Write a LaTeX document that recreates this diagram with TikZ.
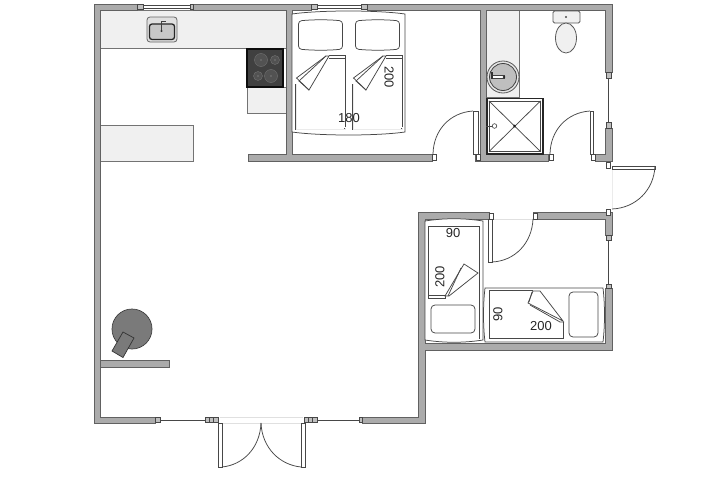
\documentclass[tikz,border=0pt]{standalone}
\usepackage{fontspec}
\setmainfont{Liberation Sans}
\begin{document}
\begin{tikzpicture}[x=1pt,y=-1pt,
  thinline/.style={draw=black!72,line width=.75pt},
  frameline/.style={draw=black!72,line width=.5pt,double=black!8,double distance=.8pt},
  counter/.style={fill=black!6,draw=black!55,line width=.9pt},
  furn/.style={fill=white,draw=black!72,line width=.75pt},
  capbox/.style={fill=black!25,draw=black!72,line width=.6pt},
  leaf/.style={fill=white,draw=black!72,line width=.75pt},
  lbl/.style={font=\fontsize{13}{14}\selectfont,text=black!85,inner sep=0pt}]
\useasboundingbox (0,0) rectangle (718,479);
\fill[white] (0,0) rectangle (718,479);
% counters
\path[counter] (100,10) rectangle (286,48);
\path[counter] (247,87) -- (247,113) -- (286,113) -- (286,87) -- cycle;
\path[counter] (100,125) -- (193,125) -- (193,161) -- (100,161) -- cycle;
\path[counter] (486,10) -- (519,10) -- (519,97) -- (486,97) -- cycle;
% walls
\def\walls{94/4/137/10,193/4/311/10,367/4/612/10,94/4/100/423,94/417/155/423,362/417/425/423,%
418/212/425/423,418/212/489/219,533/212/612/219,605/212/612/235,605/288/612/350,418/343/612/350,%
605/4/612/72,605/128/612/161,595/154/612/161,480/4/486/161,475/154/548/161,286/4/292/161,%
248/154/432/161,100/360/169/367}
\foreach \a/\b/\c/\d in \walls {\draw[black!62,fill=black!62,line width=1pt] (\a,\b) rectangle (\c,\d);}
\foreach \a/\b/\c/\d in \walls {\fill[black!33] (\a+.5,\b+.5) rectangle (\c-.5,\d-.5);}
% windows
\foreach \a/\b in {143/190,317/361}{\draw[thinline] (\a,5.5) -- (\b,5.5); \draw[thinline] (\a,8) -- (\b,8);}
\foreach \a/\b in {137/143,190/193,311/317,361/367}{\path[capbox] (\a,4.5) rectangle (\b,9.5);}
\draw[thinline] (160,420) -- (205,420);
\draw[thinline] (317,420) -- (360,420);
\foreach \a/\b in {155/160,205/209,209/213,213/218,304/308,308/312,312/317,359/362}{\path[capbox] (\a,417.5) rectangle (\b,422.5);}
\draw[thinline] (608.5,78) -- (608.5,122);
\draw[thinline] (608.5,240) -- (608.5,284);
\foreach \a/\b in {72/78,122/128,235/240,284/288}{\path[capbox] (606,\a) rectangle (611,\b);}
% thresholds
\draw[black!12,line width=.5pt] (220,417) -- (303,417) (220,423) -- (303,423);
\draw[black!12,line width=.5pt] (489,219) -- (533,219);
\draw[black!8,line width=.5pt] (612,169) -- (612,209);
% kitchen sink
\draw[fill=black!12,draw=black!60,line width=.8pt,rounded corners=3pt] (147,17) rectangle (177,42);
\draw[fill=black!22,draw=black!85,line width=1.3pt,rounded corners=2.5pt] (149.5,24) rectangle (174.5,39.5);
\draw[black!75,line width=1.5pt] (161.5,31) -- (161.5,21.5) -- (166,21.5);
\fill[black!80] (161.5,31) circle (1.1);
% stove
\path[fill=black!75,draw=black!95,line width=1.1pt] (247,49) rectangle (283,87);
\foreach \x/\y/\r in {261/60/6.5,275/60/4.5,258/76/4.5,271/76/6.5}{
  \draw[fill=black!68,draw=black!55,line width=.4pt] (\x,\y) circle (\r);
  \fill[black!35] (\x,\y) circle (.7);}
% round table and chair
\draw[fill=black!52,draw=black!75,line width=.7pt] (132,329) circle (20);
\draw[fill=black!52,draw=black!80,line width=.7pt] (112,351) -- (123,357.5) -- (134,338) -- (123,332) -- cycle;
% large bed
\path[furn] (292,14) .. controls (320,10) and (377,10) .. (405,14) -- (405,132) .. controls (377,136) and (320,136) .. (292,132) -- cycle;
\foreach \dx in {0,57}{
  \begin{scope}[xshift=\dx pt]
  \draw[thinline] (329,55) -- (345,55) -- (345,127);
  \draw[frameline] (345,128) -- (345,129.5) -- (296,129.5) -- (296,84);
  \draw[thinline] (329,58.5) -- (345,58.5);
  \path[furn] (326,56) -- (296.5,78) -- (309,90) -- (329,56) -- cycle;
  \draw[thinline] (326,56) -- (299,81) -- (309,90);
  \draw[furn,rounded corners=3pt] (298.5,21) .. controls (312,19.5) and (330,19.5) .. (342.5,21) -- (342.5,49) .. controls (330,50.5) and (312,50.5) .. (298.5,49) -- cycle;
  \end{scope}}
% bath
\draw[fill=black!10,draw=black!65,line width=.8pt] (503,77) circle (16);
\draw[fill=black!25,draw=black!75,line width=.8pt] (503,77) circle (13.5);
\draw[fill=white,draw=black!75,line width=.5pt] (492,75.5) rectangle (504,78.5);
\fill[black!80] (491,72) rectangle (493,79);
\fill[black!85] (504,77) circle (1.4);
\draw[fill=white,draw=black!85,line width=1.6pt] (486.8,98.5) rectangle (542.8,154);
\draw[thinline] (489,101) rectangle (540.5,151.5);
\draw[thinline] (489,101) -- (540.5,151.5) (540.5,101) -- (489,151.5);
\fill[black!90] (514.5,126) circle (1.3);
\draw[thinline] (486,126) -- (493,126);
\draw[fill=white,draw=black!75,line width=.6pt] (494.5,126) circle (2.3);
\draw[fill=black!6,draw=black!65,line width=.8pt,rounded corners=1.5pt] (553,11) rectangle (580,23);
\draw[fill=black!6,draw=black!65,line width=.8pt] (566,38) ellipse (10.5 and 15);
\fill[black!70] (566,17) circle (1.2);
% single beds
\path[furn] (425,221) .. controls (444,218) and (464,218) .. (483,221) -- (483,340) .. controls (464,343) and (444,343) .. (425,340) -- cycle;
\draw[thinline] (428,294.5) -- (428,226) -- (479,226) -- (479,339) ;
\draw[thinline] (428,295) -- (445,295) -- (445,298.5) -- (428,298.5) -- cycle;
\path[furn] (464,264) -- (478,273) -- (449,296) -- (445,296) -- cycle;
\draw[thinline] (461,268) -- (448,296);
\draw[furn,rounded corners=4pt] (431,305) rectangle (475,333);
\path[furn] (485,288) .. controls (483,305) and (483,325) .. (485,342) -- (603,342) .. controls (605,325) and (605,305) .. (603,288) -- cycle;
\draw[thinline] (533,290.5) -- (489,290.5) -- (489,338.5) -- (563,338.5) -- (563,322);
\path[furn] (533,291) -- (540,291) -- (563,321) -- (528,303) -- cycle;
\draw[thinline] (530,305) -- (560,322) -- (563,322);
\draw[thinline] (532,292) -- (529,302);
\draw[furn,rounded corners=4pt] (569,292) rectangle (598,337);
% doors
\path[leaf] (473,111) rectangle (478,154);
\draw[thinline] (473,111) .. controls (450,112.5) and (433.5,130) .. (433,154);
\path[leaf] (590,111) rectangle (593.5,154);
\draw[thinline] (590,111) .. controls (567,112.5) and (550.5,130) .. (550,154);
\path[leaf] (612,166) rectangle (655,169);
\draw[thinline] (655,166) .. controls (654,190) and (636,208) .. (612,209);
\path[leaf] (488,219) rectangle (492,262);
\draw[thinline] (492,262) .. controls (515,261) and (532,243) .. (533,219);
\path[leaf] (218,423) rectangle (222,467);
\draw[thinline] (222,467) .. controls (243,465) and (260,448) .. (261,423);
\path[leaf] (301,423) rectangle (305,467);
\draw[thinline] (301,467) .. controls (280,465) and (262,448) .. (261,423);
\foreach \x/\y in {432/154,476/154,549/154,591/154,489/213,533/213,606/162,606/209}{\path[capbox,fill=white] (\x,\y) rectangle +(4,6);}
% labels
\node[lbl] (t180) at (349,118) {180};
\node[lbl,rotate=-90] (t200a) at (389,77) {200};
\node[lbl] (t90a) at (453,233) {90};
\node[lbl,rotate=90] (t200b) at (440,277) {200};
\node[lbl,rotate=90] (t90b) at (498,314) {90};
\node[lbl] (t200c) at (541,326) {200};
\end{tikzpicture}
\end{document}
